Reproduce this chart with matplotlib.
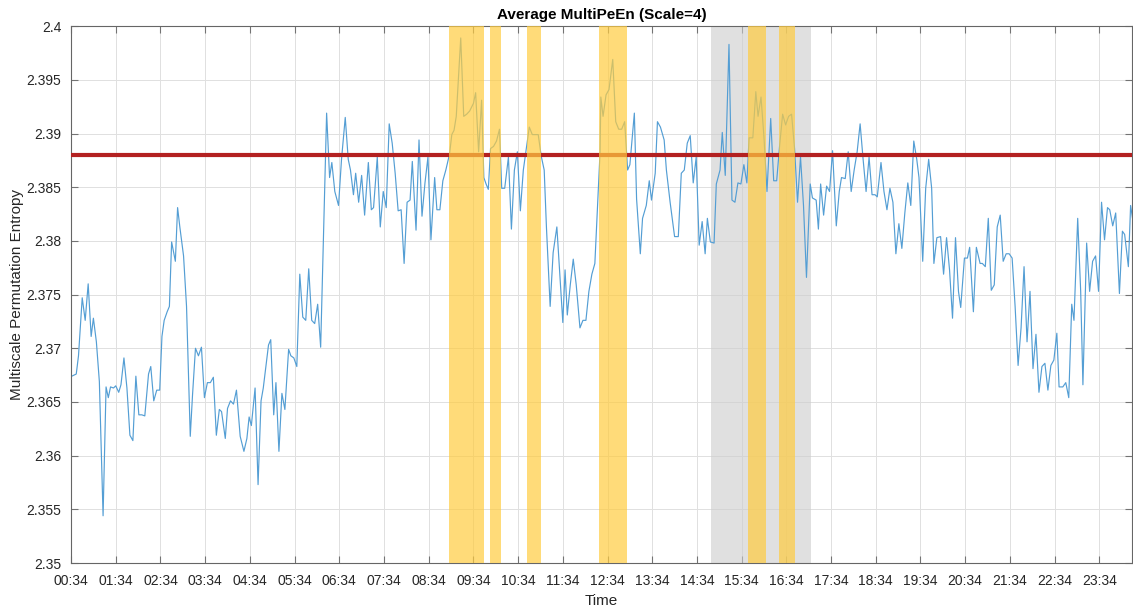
import numpy as np
import pandas as pd
import matplotlib
matplotlib.use("Agg")
import matplotlib.pyplot as plt
import matplotlib.dates as mdates
from matplotlib.ticker import FixedLocator, FuncFormatter

plt.rcParams['font.family'] = ['Liberation Sans', 'DejaVu Sans']

# minutes after 00:34 and average multiscale permutation entropy
minutes = [1, 7, 10, 15, 19, 23, 27, 30, 34, 38, 43, 47, 50, 53, 57, 60, 64, 67, 71, 75,
           79, 83, 87, 91, 95, 99, 104, 107, 111, 115, 119, 122, 125, 129, 132, 135, 140, 143, 146, 151,
           155, 160, 163, 167, 171, 175, 179, 183, 187, 191, 195, 199, 202, 207, 210, 214, 218, 222, 227, 232,
           236, 239, 242, 247, 251, 255, 258, 262, 265, 268, 272, 275, 279, 283, 287, 292, 295, 299, 303, 307,
           311, 315, 319, 323, 327, 331, 335, 343, 347, 350, 354, 359, 363, 368, 372, 375, 379, 382, 386, 390,
           394, 399, 403, 406, 411, 415, 419, 423, 427, 431, 435, 439, 443, 447, 451, 455, 458, 463, 467, 471,
           475, 479, 483, 488, 491, 495, 499, 503, 508, 511, 514, 517, 523, 527, 531, 535, 540, 543, 547, 551,
           554, 557, 560, 563, 567, 571, 575, 578, 582, 587, 591, 595, 599, 603, 607, 610, 615, 619, 623, 627,
           631, 635, 638, 643, 647, 652, 655, 660, 663, 666, 670, 674, 678, 683, 687, 691, 695, 699, 703, 707,
           710, 711, 714, 718, 722, 727, 731, 735, 739, 743, 747, 750, 756, 759, 764, 767, 772, 776, 779, 784,
           787, 791, 796, 799, 804, 810, 815, 819, 823, 827, 831, 835, 839, 843, 847, 851, 854, 858, 863, 866,
           871, 874, 878, 883, 887, 891, 895, 899, 903, 907, 910, 915, 919, 922, 926, 930, 934, 939, 943, 947,
           951, 955, 959, 963, 967, 971, 975, 979, 983, 987, 992, 995, 1000, 1003, 1006, 1010, 1014, 1018, 1022, 1027,
           1031, 1034, 1039, 1043, 1047, 1051, 1055, 1059, 1063, 1067, 1071, 1075, 1079, 1082, 1087, 1091, 1095, 1099, 1103, 1107,
           1111, 1115, 1119, 1123, 1127, 1131, 1135, 1138, 1143, 1147, 1151, 1155, 1158, 1162, 1167, 1171, 1175, 1179, 1183, 1187,
           1191, 1194, 1199, 1203, 1206, 1211, 1215, 1220, 1223, 1227, 1231, 1235, 1239, 1243, 1247, 1251, 1255, 1259, 1263, 1267,
           1271, 1275, 1279, 1283, 1287, 1291, 1295, 1299, 1303, 1307, 1311, 1315, 1319, 1323, 1326, 1331, 1335, 1339, 1343, 1346,
           1351, 1355, 1358, 1363, 1367, 1371, 1375, 1379, 1383, 1387, 1391, 1394, 1398, 1402, 1407, 1411, 1414, 1419, 1422, 1425]

entropy = [2.3674, 2.3676, 2.3693, 2.3747, 2.3726, 2.3760, 2.3711, 2.3728, 2.3706, 2.3669,
           2.3544, 2.3664, 2.3654, 2.3664, 2.3663, 2.3665, 2.3659, 2.3666, 2.3691, 2.3663,
           2.3619, 2.3614, 2.3674, 2.3638, 2.3638, 2.3637, 2.3676, 2.3683, 2.3651, 2.3661,
           2.3661, 2.3711, 2.3726, 2.3734, 2.3739, 2.3799, 2.3781, 2.3831, 2.3813, 2.3786,
           2.3739, 2.3618, 2.3656, 2.3700, 2.3693, 2.3701, 2.3654, 2.3668, 2.3668, 2.3673,
           2.3619, 2.3643, 2.3641, 2.3616, 2.3644, 2.3651, 2.3648, 2.3661, 2.3618, 2.3604,
           2.3616, 2.3636, 2.3628, 2.3663, 2.3573, 2.3651, 2.3663, 2.3686, 2.3703, 2.3708,
           2.3638, 2.3668, 2.3604, 2.3658, 2.3643, 2.3699, 2.3693, 2.3691, 2.3683, 2.3769,
           2.3729, 2.3726, 2.3774, 2.3726, 2.3723, 2.3741, 2.3701, 2.3919, 2.3859, 2.3873,
           2.3846, 2.3833, 2.3876, 2.3915, 2.3876, 2.3866, 2.3843, 2.3863, 2.3836, 2.3861,
           2.3824, 2.3873, 2.3829, 2.3831, 2.3878, 2.3813, 2.3846, 2.3831, 2.3909, 2.3891,
           2.3863, 2.3828, 2.3829, 2.3779, 2.3836, 2.3838, 2.3874, 2.3810, 2.3894, 2.3823,
           2.3854, 2.3878, 2.3801, 2.3859, 2.3829, 2.3829, 2.3856, 2.3866, 2.3881, 2.3899,
           2.3903, 2.3916, 2.3989, 2.3916, 2.3918, 2.3921, 2.3928, 2.3938, 2.3883, 2.3931,
           2.3859, 2.3853, 2.3848, 2.3886, 2.3888, 2.3893, 2.3904, 2.3849, 2.3849, 2.3878,
           2.3811, 2.3866, 2.3883, 2.3828, 2.3866, 2.3881, 2.3906, 2.3899, 2.3899, 2.3899,
           2.3879, 2.3866, 2.3813, 2.3739, 2.3789, 2.3813, 2.3779, 2.3724, 2.3773, 2.3731,
           2.3759, 2.3783, 2.3759, 2.3719, 2.3726, 2.3726, 2.3753, 2.3769, 2.3779, 2.3839,
           2.3883, 2.3934, 2.3916, 2.3936, 2.3941, 2.3969, 2.3911, 2.3904, 2.3904, 2.3911,
           2.3866, 2.3871, 2.3919, 2.3839, 2.3788, 2.3821, 2.3833, 2.3856, 2.3838, 2.3863,
           2.3911, 2.3906, 2.3894, 2.3866, 2.3836, 2.3804, 2.3804, 2.3863, 2.3866, 2.3891,
           2.3898, 2.3854, 2.3878, 2.3796, 2.3818, 2.3788, 2.3821, 2.3799, 2.3798, 2.3853,
           2.3866, 2.3901, 2.3861, 2.3983, 2.3838, 2.3836, 2.3854, 2.3853, 2.3871, 2.3854,
           2.3896, 2.3896, 2.3939, 2.3916, 2.3934, 2.3896, 2.3846, 2.3914, 2.3856, 2.3856,
           2.3889, 2.3918, 2.3908, 2.3916, 2.3918, 2.3886, 2.3836, 2.3878, 2.3833, 2.3766,
           2.3853, 2.3840, 2.3838, 2.3811, 2.3853, 2.3824, 2.3851, 2.3846, 2.3884, 2.3814,
           2.3846, 2.3859, 2.3858, 2.3883, 2.3846, 2.3866, 2.3883, 2.3909, 2.3876, 2.3846,
           2.3878, 2.3843, 2.3843, 2.3841, 2.3873, 2.3846, 2.3829, 2.3849, 2.3836, 2.3788,
           2.3816, 2.3793, 2.3826, 2.3854, 2.3833, 2.3893, 2.3876, 2.3859, 2.3781, 2.3849,
           2.3876, 2.3849, 2.3779, 2.3803, 2.3804, 2.3769, 2.3803, 2.3773, 2.3728, 2.3803,
           2.3753, 2.3738, 2.3784, 2.3784, 2.3794, 2.3734, 2.3794, 2.3779, 2.3779, 2.3776,
           2.3821, 2.3754, 2.3759, 2.3813, 2.3824, 2.3781, 2.3788, 2.3788, 2.3784, 2.3739,
           2.3684, 2.3719, 2.3776, 2.3706, 2.3753, 2.3681, 2.3713, 2.3659, 2.3683, 2.3686,
           2.3661, 2.3684, 2.3689, 2.3714, 2.3664, 2.3664, 2.3668, 2.3654, 2.3741, 2.3726,
           2.3821, 2.3753, 2.3666, 2.3798, 2.3753, 2.3781, 2.3786, 2.3753, 2.3836, 2.3801,
           2.3831, 2.3829, 2.3814, 2.3826, 2.3751, 2.3809, 2.3806, 2.3776, 2.3833, 2.3819]

threshold = 2.388

# periods above threshold (yellow) and the grey window, minutes after 00:34
yellow_spans = [(507, 554), (562, 577), (612, 631), (709, 746), (909, 933), (950, 972)]
grey_spans = [(859, 993)]

start = pd.Timestamp("2021-01-01 00:34")
end_minutes = 1424


def to_time(m):
    return start + pd.Timedelta(minutes=m)


times = [to_time(m) for m in minutes]

fig = plt.figure(figsize=(11.33, 6.08), dpi=100)
ax = fig.add_axes([0.0627, 0.074, 0.9365, 0.883])

for a, b in grey_spans:
    ax.axvspan(to_time(a), to_time(b), color=(0.80, 0.80, 0.80), alpha=0.6, lw=0, zorder=1)

ax.plot(times, entropy, color=(0.33, 0.62, 0.83), lw=0.85, zorder=2)
ax.axhline(threshold, color=(0.70, 0.13, 0.13), lw=3, zorder=3)

for a, b in yellow_spans:
    ax.axvspan(to_time(a), to_time(b), color=(1.0, 0.80, 0.25), alpha=0.7, lw=0, zorder=4)

ax.set_xlim(to_time(0), to_time(end_minutes))
ax.set_ylim(2.35, 2.4)

ax.xaxis.set_major_locator(mdates.MinuteLocator(byminute=[34]))
ax.xaxis.set_major_formatter(mdates.DateFormatter('%H:%M'))
ax.yaxis.set_major_locator(FixedLocator(np.arange(2.35, 2.4001, 0.005)))
ax.yaxis.set_major_formatter(FuncFormatter(lambda v, p: '%g' % round(v, 3)))

ax.grid(True, color=(0.88, 0.88, 0.88), lw=0.7)
ax.set_axisbelow(True)
for s in ax.spines.values():
    s.set_color((0.40, 0.40, 0.40))
    s.set_linewidth(0.8)
ax.tick_params(direction='in', length=5, width=0.8, colors=(0.45, 0.45, 0.45),
               labelcolor=(0.15, 0.15, 0.15), labelsize=10, top=True, right=True)
ax.tick_params(axis='x', pad=8)
ax.tick_params(axis='y', pad=7)

ax.set_title('Average MultiPeEn (Scale=4)', fontsize=11, fontweight='bold', pad=5)
ax.set_xlabel('Time', fontsize=11, color=(0.15, 0.15, 0.15), labelpad=4)
ax.set_ylabel('Multiscale Permutation Entropy', fontsize=11, color=(0.15, 0.15, 0.15), labelpad=2)

fig.savefig('out.png', dpi=100)
